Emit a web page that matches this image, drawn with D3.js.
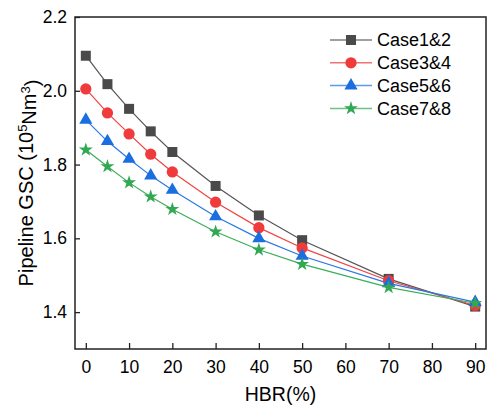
<!DOCTYPE html>
<html>
<head>
    <script src="https://cdn.jsdelivr.net/npm/d3@7"></script>
    <style>
        body { margin: 0; padding: 0; background: white; }
        text { font-family: "Liberation Sans", Arial, sans-serif; fill: #000; }
    </style>
</head>
<body>
    <div id="chart"></div>
    <script>
        // data
        const hbr = [0, 5, 10, 15, 20, 30, 40, 50, 70, 90];
        const case12 = [2.095, 2.018, 1.951, 1.890, 1.834, 1.742, 1.662, 1.595, 1.490, 1.415];
        const case34 = [2.005, 1.940, 1.883, 1.828, 1.780, 1.698, 1.629, 1.574, 1.485, 1.418];
        const case56 = [1.921, 1.863, 1.815, 1.770, 1.731, 1.659, 1.600, 1.552, 1.478, 1.427];
        const case78 = [1.840, 1.795, 1.751, 1.713, 1.679, 1.618, 1.569, 1.530, 1.467, 1.424];
        const seriesNames = ["Case1&2", "Case3&4", "Case5&6", "Case7&8"];
        const xTicks = [0, 10, 20, 30, 40, 50, 60, 70, 80, 90];
        const yTicks = [1.4, 1.6, 1.8, 2.0, 2.2];

        const series = [
            { name: seriesNames[0], values: case12, color: "#4a4a4a", line: "#555", symbol: d3.symbolSquare, size: 100 },
            { name: seriesNames[1], values: case34, color: "#ef3b3b", line: "#ef4444", symbol: d3.symbolCircle, size: 100 },
            { name: seriesNames[2], values: case56, color: "#1b6ee0", line: "#2a78e4", symbol: d3.symbolTriangle, size: 75 },
            { name: seriesNames[3], values: case78, color: "#32a852", line: "#3aad5a", symbol: d3.symbolStar, size: 60 }
        ];

        const W = 487, H = 409;
        const margin = { top: 17, right: 1, bottom: 60, left: 75 };
        const width = W - margin.left - margin.right;
        const height = H - margin.top - margin.bottom;

        const svg = d3.select("#chart").append("svg")
            .attr("width", W)
            .attr("height", H);

        const g = svg.append("g")
            .attr("transform", `translate(${margin.left},${margin.top})`);

        const x = d3.scaleLinear().domain([-2.5, 92.5]).range([0, width]);
        const y = d3.scaleLinear().domain([1.3, 2.2]).range([height, 0]);

        // axes, ticks point inward
        const xAxis = g.append("g")
            .attr("transform", `translate(0,${height})`)
            .call(d3.axisBottom(x).tickValues(xTicks).tickSize(-6).tickPadding(12).tickFormat(d3.format("d")));
        const yAxis = g.append("g")
            .call(d3.axisLeft(y).tickValues(yTicks).tickSize(-5).tickPadding(8).tickFormat(d3.format(".1f")));

        [xAxis, yAxis].forEach(a => {
            a.select(".domain").remove();
            a.selectAll(".tick line").attr("stroke", "#222").attr("stroke-width", 1.3);
            a.selectAll(".tick text")
                .style("font-family", "'Liberation Sans', Arial, sans-serif")
                .style("font-size", "17.5px")
                .attr("fill", "#000");
        });

        // frame
        g.append("rect")
            .attr("x", 0).attr("y", 0)
            .attr("width", width).attr("height", height)
            .attr("fill", "none")
            .attr("stroke", "#222")
            .attr("stroke-width", 1.5);

        const line = d3.line()
            .x((d, i) => x(hbr[i]))
            .y(d => y(d));

        series.forEach(s => {
            g.append("path")
                .datum(s.values)
                .attr("d", line)
                .attr("fill", "none")
                .attr("stroke", s.line)
                .attr("stroke-width", 1.2);
        });

        series.forEach(s => {
            g.selectAll(null)
                .data(s.values)
                .enter()
                .append("path")
                .attr("transform", (d, i) => `translate(${x(hbr[i])},${y(d)})`)
                .attr("d", d3.symbol().type(s.symbol).size(s.size))
                .attr("fill", s.color);
        });

        // legend
        const legend = g.append("g")
            .attr("transform", `translate(${330 - margin.left},${40 - margin.top})`);
        series.forEach((s, i) => {
            const row = legend.append("g").attr("transform", `translate(0,${i * 22.8})`);
            row.append("line")
                .attr("x1", 0).attr("x2", 42)
                .attr("stroke", s.line)
                .attr("stroke-opacity", 0.75)
                .attr("stroke-width", 1.5);
            row.append("path")
                .attr("transform", "translate(21,0)")
                .attr("d", d3.symbol().type(s.symbol).size(s.size))
                .attr("fill", s.color);
            row.append("text")
                .attr("x", 47)
                .attr("dy", "0.35em")
                .style("font-size", "18px")
                .text(s.name);
        });

        // axis titles
        svg.append("text")
            .attr("x", margin.left + width / 2)
            .attr("y", 401)
            .attr("text-anchor", "middle")
            .style("font-size", "19.5px")
            .text("HBR(%)");

        const yTitle = svg.append("text")
            .attr("transform", `translate(33,${margin.top + height / 2}) rotate(-90)`)
            .attr("text-anchor", "middle")
            .style("font-size", "20px");
        yTitle.append("tspan").text("Pipeline GSC (10");
        yTitle.append("tspan").attr("dy", "-0.45em").style("font-size", "13px").text("5");
        yTitle.append("tspan").attr("dy", "0.45em").text("Nm");
        yTitle.append("tspan").attr("dy", "-0.45em").style("font-size", "13px").text("3");
        yTitle.append("tspan").attr("dy", "0.45em").text(")");
    </script>
</body>
</html>
